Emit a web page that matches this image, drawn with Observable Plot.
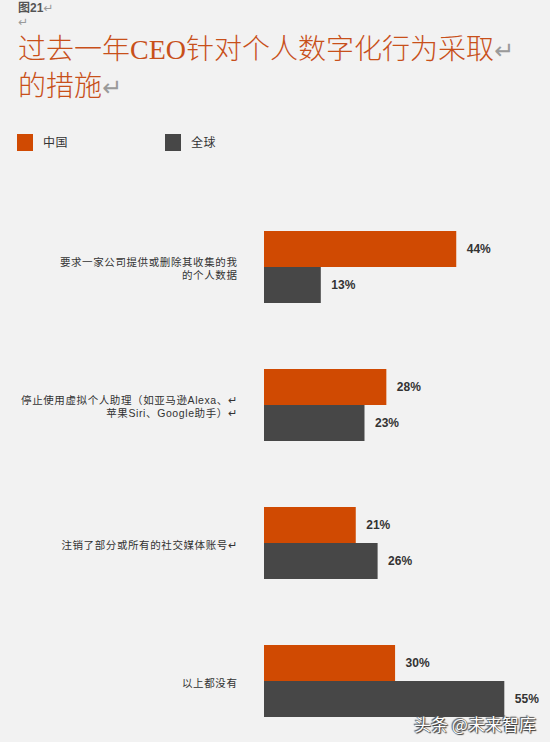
<!DOCTYPE html>
<html>
<head>
<meta charset="utf-8">
<script src="https://cdn.jsdelivr.net/npm/d3@7"></script>
<script src="https://cdn.jsdelivr.net/npm/@observablehq/plot@0.6"></script>
<style>
  html, body { margin: 0; padding: 0; background: #f2f2f2; }
  #page { position: relative; width: 550px; height: 742px; overflow: hidden; background: #f2f2f2;
          font-family: "Liberation Sans", Arial, "Noto Sans CJK SC", sans-serif; color: #333; }
  .ret { color: #9a9a9a; font-family: "DejaVu Sans", sans-serif; font-weight: normal; }
  #fig { position: absolute; left: 18px; top: 1px; font-size: 12px; font-weight: bold; color: #555; line-height: 14px; }
  #title { position: absolute; left: 18px; top: 32px; font-size: 28px; line-height: 36px; color: #c8501a;
           font-family: "Liberation Serif", "DejaVu Serif", "Noto Sans CJK SC", serif; font-weight: 300; }
  #title .ret { font-size: 24px; }
  .sw { position: absolute; width: 16px; height: 17px; }
  .lg { position: absolute; font-size: 12px; line-height: 16px; color: #333; letter-spacing: 0.5px; }
  #chart { position: absolute; left: 0; top: 200px; }
  #chart g.cat text { letter-spacing: 0.6px; }
  #wm { position: absolute; left: 414px; top: 711px; font-size: 17px; color: #fff;
        font-family: "Noto Sans CJK SC", sans-serif;
        text-shadow: 0 0 1px #333, 1px 1px 1px #333, -1px -1px 1px #555; }
</style>
</head>
<body>
<div id="page">
  <div id="fig">图21<span class="ret">↵</span><br><span class="ret">↵</span></div>
  <div id="title">过去一年CEO针对个人数字化行为采取<span class="ret">↵</span><br>的措施<span class="ret">↵</span></div>
  <div id="legend"></div>
  <div id="chart"></div>
  <div id="wm">头条 @未来智库</div>
</div>
<script>
const categories = [
  "要求一家公司提供或删除其收集的我\n的个人数据",
  "停止使用虚拟个人助理（如亚马逊Alexa、↵\n苹果Siri、Google助手）↵",
  "注销了部分或所有的社交媒体账号↵",
  "以上都没有"
];
const series = ["中国", "全球"];
const chinaValues = [44, 28, 21, 30];
const globalValues = [13, 23, 26, 55];
const colors = ["#d04a02", "#474747"];

const rows = [];
categories.forEach((c, i) => {
  rows.push({cat: c, series: series[0], value: chinaValues[i]});
  rows.push({cat: c, series: series[1], value: globalValues[i]});
});

// legend
const legend = document.getElementById("legend");
const legendX = [17, 165];
series.forEach((s, i) => {
  const sw = document.createElement("div");
  sw.className = "sw";
  sw.style.left = legendX[i] + "px";
  sw.style.top = "134px";
  sw.style.background = colors[i];
  legend.appendChild(sw);
  const t = document.createElement("div");
  t.className = "lg";
  t.style.left = (legendX[i] + 26) + "px";
  t.style.top = "135px";
  t.textContent = s;
  legend.appendChild(t);
});

const chart = Plot.plot({
  width: 550,
  height: 542,
  marginLeft: 264,
  marginRight: 2,
  marginTop: 30,
  marginBottom: 25,
  style: {background: "transparent", fontFamily: "'Liberation Sans', Arial, 'Noto Sans CJK SC', sans-serif", overflow: "visible"},
  x: {domain: [0, 65], axis: null},
  y: {domain: series, padding: 0, axis: null},
  fy: {domain: categories, paddingInner: 0.479, paddingOuter: 0, axis: null},
  color: {domain: series, range: colors},
  marks: [
    Plot.barX(rows, {fy: "cat", y: "series", x: "value", fill: "series"}),
    Plot.text(rows, {
      fy: "cat", y: "series", x: "value",
      text: d => d.value + "%",
      dx: 10, textAnchor: "start",
      fontWeight: "bold", fontSize: 12, fill: "#333"
    }),
    Plot.text(categories, {
      fy: d => d,
      text: d => d,
      frameAnchor: "left",
      dx: -27,
      dy: 1,
      textAnchor: "end",
      fontSize: 10.5,
      lineHeight: 1.25,
      fill: "#333",
      className: "cat"
    })
  ]
});
document.getElementById("chart").appendChild(chart);
</script>
</body>
</html>
